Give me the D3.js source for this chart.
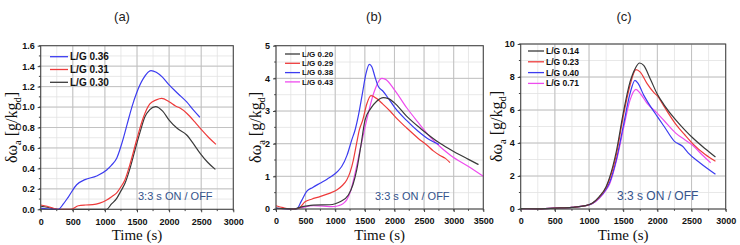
<!DOCTYPE html>
<html><head><meta charset="utf-8">
<script src="https://cdn.jsdelivr.net/npm/d3@7"></script>
<style>body{margin:0;background:#fff}svg{display:block}</style>
</head><body><svg id="chart" width="740" height="245"></svg>
<script>
// ---------- DATA ----------
const panelTitles = ["(a)", "(b)", "(c)"];
const noteText = "3:3 s ON / OFF";

// Panel (a)
const xTicksA = [0, 500, 1000, 1500, 2000, 2500, 3000];
const yTicksA = [0.0, 0.2, 0.4, 0.6, 0.8, 1.0, 1.2, 1.4, 1.6];
const namesA = ["L/G 0.36", "L/G 0.31", "L/G 0.30"];
const a_LG036 = [[0,0.012],[100,0.004],[200,0],[275,0],[350,0.05],[430,0.12],[560,0.24],[690,0.29],[872,0.326],[1028,0.385],[1100,0.43],[1184,0.50],[1271,0.66],[1350,0.84],[1420,1.0],[1495,1.14],[1600,1.28],[1718,1.356],[1800,1.34],[1900,1.29],[2000,1.216],[2140,1.13],[2274,1.05],[2380,0.97],[2480,0.90]];
const a_LG031 = [[0,0.042],[100,0.03],[200,0.01],[275,0],[472,0],[586,0.035],[700,0.042],[810,0.045],[920,0.06],[1028,0.09],[1110,0.125],[1184,0.16],[1250,0.22],[1313,0.29],[1400,0.46],[1495,0.68],[1600,0.9],[1700,1.03],[1800,1.07],[1884,1.085],[2000,1.052],[2100,1.01],[2170,0.99],[2274,0.94],[2400,0.855],[2507,0.776],[2620,0.70],[2730,0.635]];
const a_LG030 = [[0,0.03],[100,0.02],[200,0.005],[260,0],[1028,0],[1100,0.05],[1184,0.107],[1250,0.18],[1313,0.254],[1400,0.42],[1469,0.58],[1550,0.76],[1620,0.90],[1700,0.975],[1790,1.004],[1900,0.96],[2000,0.873],[2130,0.79],[2274,0.727],[2380,0.64],[2481,0.55],[2600,0.46],[2720,0.39]];

// Panel (b)
const xTicksB = [0, 500, 1000, 1500, 2000, 2500, 3000, 3500];
const yTicksB = [0, 1, 2, 3, 4, 5];
const namesB = ["L/G 0.20", "L/G 0.29", "L/G 0.38", "L/G 0.43"];
const b_LG020 = [[0,0.03],[150,0.01],[300,0],[400,0.05],[630,0.12],[912,0.13],[1000,0.16],[1081,0.22],[1222,0.43],[1300,0.75],[1362,1.19],[1430,1.9],[1503,2.72],[1600,3.08],[1700,3.3],[1812,3.41],[1900,3.38],[2000,3.25],[2200,2.85],[2450,2.45],[2769,2.01],[3000,1.76],[3250,1.52],[3420,1.36]];
const b_LG029 = [[0,0.1],[120,0.04],[250,0],[380,0.02],[490,0.22],[600,0.3],[743,0.38],[900,0.48],[1025,0.58],[1120,0.72],[1194,0.89],[1250,1.12],[1306,1.5],[1360,2.0],[1407,2.42],[1464,2.72],[1530,3.2],[1604,3.47],[1700,3.38],[1800,3.22],[1925,3.0],[2050,2.75],[2207,2.48],[2403,2.16],[2550,1.95],[2656,1.78],[2769,1.64],[2860,1.55],[2938,1.42]];
const b_LG038 = [[0,0.02],[150,0.01],[300,0],[349,0],[430,0.25],[518,0.54],[620,0.66],[743,0.79],[868,0.92],[968,1.04],[1050,1.17],[1109,1.30],[1200,1.65],[1278,2.11],[1340,2.45],[1390,2.85],[1460,3.55],[1520,4.15],[1576,4.43],[1620,4.35],[1670,4.05],[1728,3.75],[1800,3.62],[1900,3.38],[2000,3.12],[2200,2.72],[2400,2.38],[2600,2.11],[2750,1.98]];
const b_LG043 = [[0,0.02],[150,0.01],[300,0],[400,0.03],[630,0.1],[800,0.09],[940,0.07],[1053,0.1],[1130,0.16],[1194,0.28],[1260,0.55],[1334,1.09],[1430,1.9],[1531,2.72],[1650,3.55],[1784,4.0],[1850,3.97],[2000,3.65],[2207,3.1],[2400,2.65],[2600,2.21],[2800,1.86],[2950,1.64],[3250,1.3],[3500,1.0]];

// Panel (c)
const xTicksC = [0, 500, 1000, 1500, 2000, 2500, 3000];
const yTicksC = [0, 2, 4, 6, 8, 10];
const namesC = ["L/G 0.14", "L/G 0.23", "L/G 0.40", "L/G 0.71"];
const c_LG014 = [[0,0.02],[300,0.01],[500,0.05],[750,0.1],[950,0.2],[1050,0.36],[1150,0.75],[1250,1.35],[1300,1.9],[1400,3.5],[1500,5.8],[1600,7.7],[1680,8.55],[1740,8.85],[1800,8.7],[1900,7.85],[2000,6.95],[2100,6.3],[2268,5.4],[2400,4.8],[2520,4.3],[2700,3.65],[2850,3.15]];
const c_LG023 = [[0,0.02],[300,0.01],[500,0.05],[750,0.1],[950,0.2],[1050,0.35],[1150,0.72],[1250,1.3],[1300,1.8],[1400,3.3],[1500,5.6],[1600,7.5],[1687,8.45],[1750,8.3],[1850,7.6],[1950,7.05],[2000,6.85],[2100,6.2],[2268,5.15],[2400,4.5],[2520,3.95],[2700,3.3],[2850,2.9]];
const c_LG040 = [[0,0.02],[300,0.01],[500,0.05],[750,0.1],[950,0.2],[1050,0.34],[1150,0.68],[1250,1.2],[1300,1.6],[1400,3.0],[1500,5.0],[1600,7.0],[1672,7.8],[1720,7.6],[1800,6.9],[1864,6.45],[2000,5.6],[2100,5.0],[2250,4.1],[2369,3.8],[2450,3.4],[2621,2.8],[2850,2.1]];
const c_LG071 = [[0,0.02],[300,0.01],[500,0.05],[750,0.1],[950,0.2],[1050,0.33],[1150,0.65],[1250,1.15],[1300,1.5],[1400,2.9],[1500,4.8],[1600,6.6],[1687,7.25],[1750,7.0],[1850,6.4],[2000,5.8],[2100,5.35],[2268,4.6],[2400,4.2],[2520,3.85],[2650,3.3],[2780,2.8]];

// ---------- STYLE / LAYOUT ----------
const C_BLACK = "#3a3a3a", C_RED = "#ee3b3b", C_BLUE = "#3c3cf0", C_MAG = "#ee4cee";
const NOTE_COLOR = "#34538c";

const panels = [
  { title: panelTitles[0], titleX: 122, box: {l: 40.7, r: 233.3, t: 45.7, b: 209.3},
    xMax: 3000, xTicks: xTicksA, xMinor: 250, yMax: 1.6, yTicks: yTicksA, yMinor: 0.1, fmt: d3.format(".1f"),
    series: [{n: namesA[0], c: C_BLUE, d: a_LG036}, {n: namesA[1], c: C_RED, d: a_LG031}, {n: namesA[2], c: C_BLACK, d: a_LG030}],
    leg: {x1: 50, x2: 68, tx: 70, y0: 56.7, dy: 12.8, fs: 10},
    note: {x: 138, y: 199.5, fs: 11}, ylabX: 12 },
  { title: panelTitles[1], titleX: 374, box: {l: 276, r: 483.3, t: 45.7, b: 209},
    xMax: 3500, xTicks: xTicksB, xMinor: 250, yMax: 5, yTicks: yTicksB, yMinor: 0.5, fmt: d3.format("d"),
    series: [{n: namesB[0], c: C_BLACK, d: b_LG020}, {n: namesB[1], c: C_RED, d: b_LG029}, {n: namesB[2], c: C_BLUE, d: b_LG038}, {n: namesB[3], c: C_MAG, d: b_LG043}],
    leg: {x1: 285, x2: 300, tx: 302, y0: 54, dy: 9.3, fs: 8},
    note: {x: 375, y: 199.5, fs: 11}, ylabX: 256 },
  { title: panelTitles[2], titleX: 624, box: {l: 520.7, r: 725.7, t: 44, b: 209},
    xMax: 3000, xTicks: xTicksC, xMinor: 250, yMax: 10, yTicks: yTicksC, yMinor: 1, fmt: d3.format("d"),
    series: [{n: namesC[0], c: C_BLACK, d: c_LG014}, {n: namesC[1], c: C_RED, d: c_LG023}, {n: namesC[2], c: C_BLUE, d: c_LG040}, {n: namesC[3], c: C_MAG, d: c_LG071}],
    leg: {x1: 528, x2: 544, tx: 546, y0: 51, dy: 10.8, fs: 8.5},
    note: {x: 617, y: 200, fs: 12}, ylabX: 497 }
];

const svg = d3.select("#chart");
svg.append("rect").attr("width", 740).attr("height", 245).attr("fill", "#fff");

panels.forEach((p, pi) => {
  const B = p.box;
  const x = d3.scaleLinear().domain([0, p.xMax]).range([B.l, B.r]);
  const y = d3.scaleLinear().domain([0, p.yMax]).range([B.b, B.t]);
  const g = svg.append("g");

  g.append("text").attr("x", p.titleX).attr("y", 21).attr("text-anchor", "middle")
    .attr("font-family", "Liberation Sans, Arial, sans-serif").attr("font-size", 13).attr("fill", "#222").text(p.title);

  const xMinorVals = d3.range(0, p.xMax + 1e-6, p.xMinor);
  const yMinorVals = d3.range(0, p.yMax + 1e-9, p.yMinor);
  g.append("g").selectAll("line").data(xMinorVals).join("line")
    .attr("x1", d => x(d)).attr("x2", d => x(d)).attr("y1", B.t).attr("y2", B.b)
    .attr("stroke", "#e2e2e2").attr("stroke-width", 0.8);
  g.append("g").selectAll("line").data(yMinorVals).join("line")
    .attr("x1", B.l).attr("x2", B.r).attr("y1", d => y(d)).attr("y2", d => y(d))
    .attr("stroke", "#e2e2e2").attr("stroke-width", 0.8);
  g.append("g").selectAll("line").data(p.xTicks).join("line")
    .attr("x1", d => x(d)).attr("x2", d => x(d)).attr("y1", B.t).attr("y2", B.b)
    .attr("stroke", "#bdbdbd").attr("stroke-width", 0.9);
  g.append("g").selectAll("line").data(p.yTicks).join("line")
    .attr("x1", B.l).attr("x2", B.r).attr("y1", d => y(d)).attr("y2", d => y(d))
    .attr("stroke", "#bdbdbd").attr("stroke-width", 0.9);

  const cid = "clip" + pi;
  svg.append("clipPath").attr("id", cid).append("rect")
    .attr("x", B.l).attr("y", B.t).attr("width", B.r - B.l).attr("height", B.b - B.t + 1);

  const line = d3.line().x(d => x(d[0])).y(d => y(d[1])).curve(d3.curveMonotoneX);
  g.append("g").attr("clip-path", `url(#${cid})`).selectAll("path").data(p.series.slice().reverse()).join("path")
    .attr("d", s => line(s.d)).attr("fill", "none").attr("stroke", s => s.c).attr("stroke-width", 1.2);

  const ax = d3.axisBottom(x).tickValues(p.xTicks).tickSize(3).tickFormat(d3.format("d"));
  const ay = d3.axisLeft(y).tickValues(p.yTicks).tickSize(3).tickFormat(p.fmt);
  const gx = g.append("g").attr("transform", `translate(0,${B.b})`).call(ax);
  const gy = g.append("g").attr("transform", `translate(${B.l},0)`).call(ay);
  [gx, gy].forEach(a => {
    a.select(".domain").remove();
    a.selectAll("line").attr("stroke", "#444");
    a.selectAll("text").attr("font-family", "Liberation Sans, Arial, sans-serif")
      .attr("font-size", 9).attr("font-weight", "bold").attr("fill", "#111");
  });
  gx.selectAll("text").attr("dy", "1.05em");
  g.append("g").selectAll("line").data(xMinorVals).join("line")
    .attr("x1", d => x(d)).attr("x2", d => x(d)).attr("y1", B.b).attr("y2", B.b + 1.8).attr("stroke", "#444");
  g.append("g").selectAll("line").data(yMinorVals).join("line")
    .attr("x1", B.l - 1.8).attr("x2", B.l).attr("y1", d => y(d)).attr("y2", d => y(d)).attr("stroke", "#444");

  g.append("rect").attr("x", B.l).attr("y", B.t).attr("width", B.r - B.l).attr("height", B.b - B.t)
    .attr("fill", "none").attr("stroke", "#444").attr("stroke-width", 1);

  p.series.forEach((s, i) => {
    const ly = p.leg.y0 + i * p.leg.dy;
    g.append("line").attr("x1", p.leg.x1).attr("x2", p.leg.x2).attr("y1", ly).attr("y2", ly)
      .attr("stroke", s.c).attr("stroke-width", 1.3);
    g.append("text").attr("x", p.leg.tx).attr("y", ly).attr("dy", "0.35em")
      .attr("font-family", "Liberation Sans, Arial, sans-serif").attr("font-weight", "bold")
      .attr("font-size", p.leg.fs).attr("fill", "#111").text(s.n);
  });

  g.append("text").attr("x", p.note.x).attr("y", p.note.y)
    .attr("font-family", "Liberation Sans, Arial, sans-serif").attr("font-size", p.note.fs)
    .attr("fill", NOTE_COLOR).text(noteText);

  g.append("text").attr("x", (B.l + B.r) / 2).attr("y", 240).attr("text-anchor", "middle")
    .attr("font-family", "Liberation Serif, Times New Roman, serif").attr("font-size", 15)
    .attr("fill", "#111").text("Time (s)");

  const yl = g.append("text").attr("transform", `translate(${p.ylabX},${(B.t + B.b) / 2}) rotate(-90)`)
    .attr("text-anchor", "middle").attr("font-family", "Liberation Serif, Times New Roman, serif")
    .attr("font-size", 16).attr("fill", "#111").attr("dy", "0.33em");
  yl.append("tspan").text("δω");
  yl.append("tspan").attr("font-size", 10.5).attr("dy", 3.5).text("a");
  yl.append("tspan").attr("dy", -3.5).text(" [g/kg");
  yl.append("tspan").attr("font-size", 10.5).attr("dy", 3.5).text("d");
  yl.append("tspan").attr("dy", -3.5).text("]");
});
</script></body></html>
